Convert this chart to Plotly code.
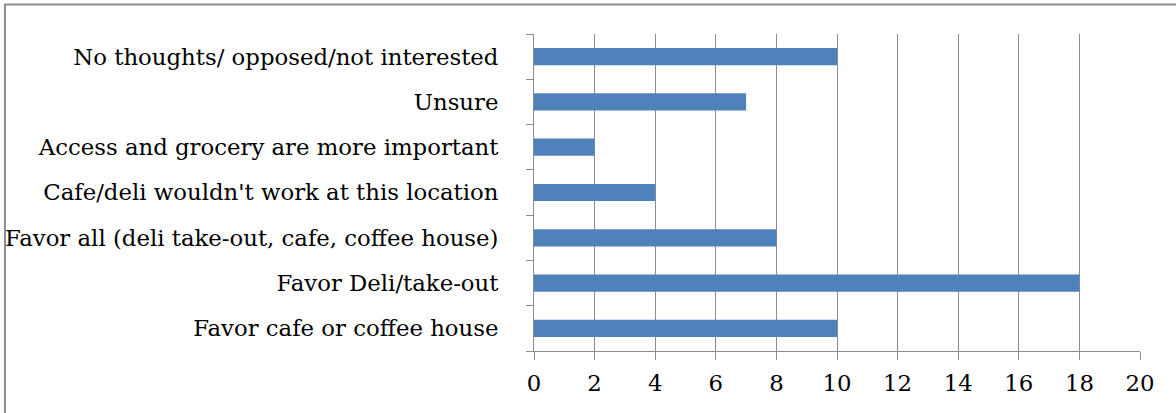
import plotly.graph_objects as go

categories = [
    "Favor cafe or coffee house",
    "Favor Deli/take-out",
    "Favor all (deli take-out, cafe, coffee house)",
    "Cafe/deli wouldn't work at this location",
    "Access and grocery are more important",
    "Unsure",
    "No thoughts/ opposed/not interested",
]
values = [10, 18, 8, 4, 2, 7, 10]
x_ticks = list(range(0, 21, 2))

W, H = 1176, 413
L, R, T, B = 534, 36, 34, 62

fig = go.Figure(go.Bar(
    y=categories, x=values, orientation="h",
    marker=dict(color="#4F81BD", line=dict(width=0)),
    width=0.38,
))

font = dict(family="DejaVu Serif", size=22.8, color="#000000")
fig.update_layout(
    width=W, height=H,
    margin=dict(l=L, r=R, t=T, b=B, autoexpand=False),
    paper_bgcolor="white", plot_bgcolor="white",
    showlegend=False,
    font=font,
    bargap=0.62,
)
fig.update_xaxes(
    range=[0, 20], tickvals=x_ticks, showgrid=True, gridcolor="#8C8C8C", gridwidth=1,
    zeroline=False, showline=True, linecolor="#8C8C8C", linewidth=1,
    ticks="outside", ticklen=8, tickcolor="#8C8C8C", tickfont=font,
    ticklabelstandoff=4, automargin=False,
)
fig.update_yaxes(
    type="category", categoryorder="array", categoryarray=categories,
    range=[-0.5, 6.5],
    showgrid=False, zeroline=False, showline=True, linecolor="#8C8C8C", linewidth=1,
    ticks="outside", ticklen=7, tickcolor="#8C8C8C", tickson="boundaries",
    ticklabelstandoff=30, tickfont=font, automargin=False,
)
# outer chart border
fig.add_shape(
    type="rect", xref="paper", yref="paper",
    x0=(5 - L) / (W - L - R), x1=(1180 - L) / (W - L - R),
    y0=-(B + 10) / (H - T - B), y1=1 + (T - 4.5) / (H - T - B),
    line=dict(color="#8C8C8C", width=2), fillcolor="rgba(0,0,0,0)", layer="below",
)
fig.write_html(
    "out.html",
    config={"displayModeBar": False},
    post_script="document.body.style.margin='0px';document.body.style.overflow='hidden';",
)
